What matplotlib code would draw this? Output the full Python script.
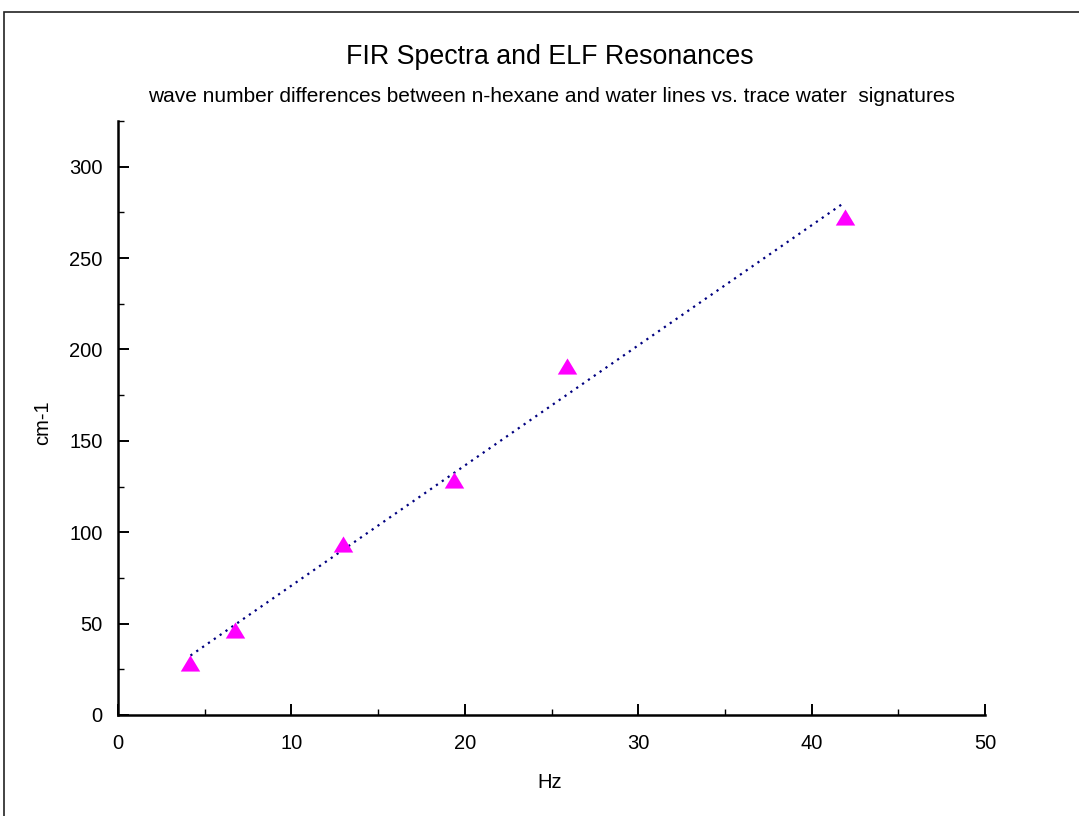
import numpy as np
import matplotlib
matplotlib.use("Agg")
import matplotlib.pyplot as plt
from matplotlib.patches import Rectangle
from matplotlib.ticker import MultipleLocator

plt.rcParams['font.family'] = ['Liberation Sans', 'DejaVu Sans']

hz = [4.18, 6.75, 12.95, 19.4, 25.92, 41.9]
cm1 = [28.5, 46.5, 93.5, 128.5, 191, 272.5]
title = "FIR Spectra and ELF Resonances"
subtitle = "wave number differences between n-hexane and water lines vs. trace water  signatures"

fig = plt.figure(figsize=(10.79, 8.16), dpi=100)
W, H = 1079, 816
ax = fig.add_axes([118 / W, 1 - 715 / H, (985 - 118) / W, (715 - 121) / H])

x = np.array(hz)
y = np.array(cm1)
p = np.polyfit(x, y, 1)
xl = np.array([x.min(), x.max()])
ax.plot(xl, np.polyval(p, xl), linestyle=(0, (1, 2.2)), color='#000080', lw=1.6, zorder=2)
tri = [(0, 0.83), (-1, -0.83), (1, -0.83)]
ax.plot(x, y, linestyle='none', marker=tri, ms=14, color='#FF00FF', mec='#FF00FF', mew=0, zorder=3)

ax.set_xlim(0, 50)
ax.set_ylim(0, 325)
ax.xaxis.set_major_locator(MultipleLocator(10))
ax.xaxis.set_minor_locator(MultipleLocator(5))
ax.yaxis.set_major_locator(MultipleLocator(50))
ax.yaxis.set_minor_locator(MultipleLocator(25))
for s in ['top', 'right']:
    ax.spines[s].set_visible(False)
for s in ['left', 'bottom']:
    ax.spines[s].set_linewidth(1.8)
ax.tick_params(which='major', direction='in', length=8, width=1.4, labelsize=14.5)
ax.tick_params(which='minor', direction='in', length=4, width=1)
ax.tick_params(axis='y', which='major', pad=11)
ax.tick_params(axis='x', which='major', pad=14)

fig.text(550 / W, 1 - 783 / H, "Hz", ha='center', va='center', fontsize=14.5)
fig.text(43 / W, 1 - 423 / H, "cm-1", ha='center', va='center', fontsize=14.5, rotation=90)

fig.text(550 / W, 1 - 57 / H, title, ha='center', va='center', fontsize=19.3)
fig.text(551 / W, 1 - 97 / H, subtitle, ha='center', va='center', fontsize=15)

fig.patches.append(Rectangle((4 / W, -0.1), 1.2, 1 - 12 / H + 0.1, transform=fig.transFigure,
                             fill=False, edgecolor='#222222', lw=1.2, clip_on=False))

fig.savefig("out.png", dpi=100)
